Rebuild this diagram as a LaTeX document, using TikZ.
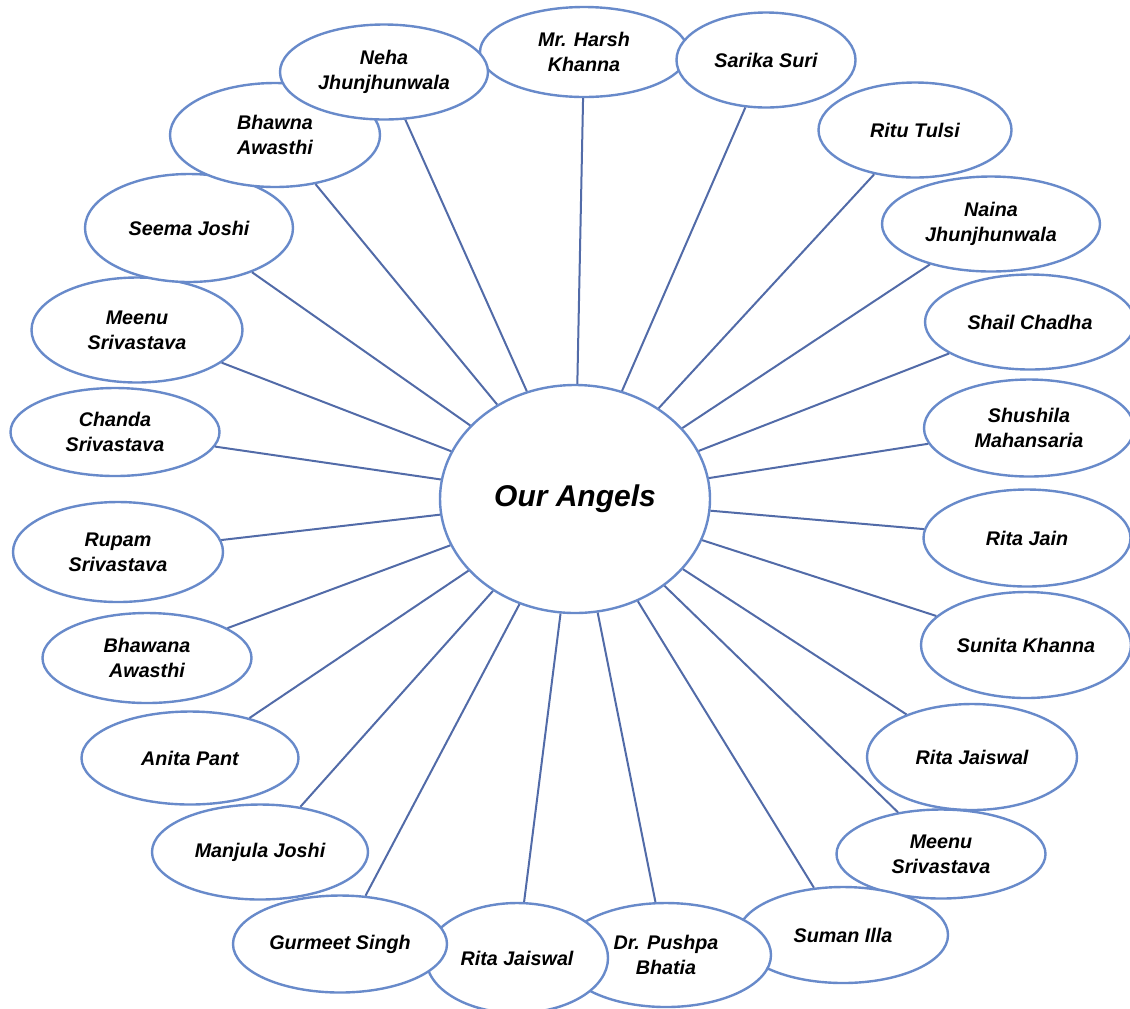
\documentclass[tikz,border=0pt]{standalone}
\usepackage{fontspec}
\setmainfont{Liberation Sans}
\usetikzlibrary{shapes.geometric}
\definecolor{ringblue}{RGB}{104,138,202}
\definecolor{spokeblue}{RGB}{82,107,168}
\tikzset{
  angel/.style 2 args={ellipse, draw=ringblue, line width=1.8pt, fill=white,
    align=center, inner sep=0pt, minimum width=#1*0.75pt, minimum height=#2*0.75pt,
    font=\fontsize{14.8}{18.8}\selectfont\bfseries\itshape},
  spoke/.style={draw=spokeblue, line width=1.5pt}
}
\begin{document}
\begin{tikzpicture}[x=0.75pt,y=-0.75pt]
    \useasboundingbox (0,0) rectangle (1130,1008);
    % set up the nodes
    \node[angel={270}{228}, font=\fontsize{22.5}{27}\selectfont\bfseries\itshape] (C) at (575,499) {Our Angels};
    \node[angel={208}{90}] (A1) at (584,52) {Mr. Harsh\\Khanna};
    \node[angel={179}{95}] (A2) at (766,60) {Sarika Suri};
    \node[angel={193}{95}] (A3) at (915,130) {Ritu Tulsi};
    \node[angel={218}{95}] (A4) at (991,224) {Naina\\Jhunjhunwala};
    \node[angel={210}{95}] (A5) at (1030,322) {Shail Chadha};
    \node[angel={210}{97}] (A6) at (1029,428) {Shushila\\Mahansaria};
    \node[angel={207}{97}] (A7) at (1027,538) {Rita Jain};
    \node[angel={210}{106}] (A8) at (1026,645) {Sunita Khanna};
    \node[angel={210}{106}] (A9) at (972,757) {Rita Jaiswal};
    \node[angel={209}{89}] (A10) at (941,854) {Meenu\\Srivastava};
    \node[angel={210}{96}] (A11) at (843,935) {Suman Illa};
    \node[angel={210}{104}] (A12) at (666,955) {Dr. Pushpa\\Bhatia};
    \node[angel={182}{110}] (A13) at (517,958) {Rita Jaiswal};
    \node[angel={214}{97}] (A14) at (340,944) {Gurmeet Singh};
    \node[angel={216}{95}] (A15) at (260,852) {Manjula Joshi};
    \node[angel={217}{93}] (A16) at (190,758) {Anita Pant};
    \node[angel={209}{90}] (A17) at (147,658) {Bhawana\\Awasthi};
    \node[angel={210}{100}] (A18) at (118,552) {Rupam\\Srivastava};
    \node[angel={209}{88}] (A19) at (115,432) {Chanda\\Srivastava};
    \node[angel={211}{105}] (A20) at (137,330) {Meenu\\Srivastava};
    \node[angel={208}{108}] (A21) at (189,228) {Seema Joshi};
    \node[angel={210}{104}] (A22) at (275,135) {Bhawna\\Awasthi};
    \node[angel={208}{95}] (A23) at (384,72) {Neha\\Jhunjhunwala};
    % draw the spokes from the centre
    \foreach \i in {1,...,23}
        \draw[spoke] (C)--(A\i);
\end{tikzpicture}
\end{document}
